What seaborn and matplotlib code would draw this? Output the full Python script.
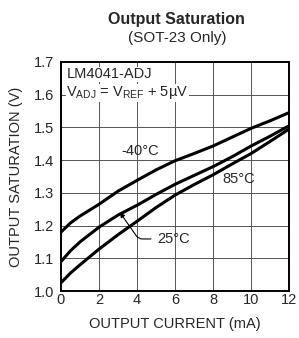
import numpy as np
import pandas as pd
import matplotlib
matplotlib.use("Agg")
import matplotlib.pyplot as plt
import seaborn as sns

# ------- DATA ----------------------------------------
current_ma = [0, 0.5, 1, 2, 3, 4, 5, 6, 7, 8, 9, 10, 11, 12]
sat_m40 = [1.18, 1.208, 1.229, 1.265, 1.305, 1.338, 1.37, 1.398, 1.42, 1.443, 1.47, 1.497, 1.52, 1.545]
sat_25 = [1.09, 1.123, 1.15, 1.195, 1.232, 1.262, 1.295, 1.326, 1.353, 1.38, 1.41, 1.443, 1.473, 1.505]
sat_85 = [1.025, 1.055, 1.08, 1.128, 1.172, 1.213, 1.255, 1.293, 1.325, 1.355, 1.388, 1.42, 1.457, 1.495]
temps = ["-40°C", "25°C", "85°C"]

x_ticks = [0, 2, 4, 6, 8, 10, 12]
y_ticks = [1.0, 1.1, 1.2, 1.3, 1.4, 1.5, 1.6, 1.7]

df = pd.DataFrame({
    "current": current_ma * 3,
    "vsat": sat_m40 + sat_25 + sat_85,
    "temp": [t for t in temps for _ in current_ma],
})

sns.set_style("white")
plt.rcParams["font.family"] = ["Liberation Sans", "DejaVu Sans"]

fig = plt.figure(figsize=(2.99, 3.38), dpi=100)
ax = fig.add_axes([0.204, 0.139, 0.763, 0.678])

sns.lineplot(data=df, x="current", y="vsat", units="temp", estimator=None,
             color="black", lw=2.2, ax=ax, legend=False)

ax.set_xlim(0, 12)
ax.set_ylim(1.0, 1.7)
ax.set_xticks(x_ticks)
ax.set_yticks(y_ticks)
ax.set_xticklabels([str(v) for v in x_ticks], fontsize=10.5)
ax.set_yticklabels([f"{v:.1f}" for v in y_ticks], fontsize=10.5)
ax.tick_params(axis="y", length=0, pad=5)
ax.tick_params(axis="x", length=0, pad=1.5)
ax.grid(True, color="#555555", lw=0.7)
for s in ax.spines.values():
    s.set_color("black")
    s.set_linewidth(1.4)

ax.set_xlabel("OUTPUT CURRENT (mA)", fontsize=10.5, labelpad=7)
ax.set_ylabel("OUTPUT SATURATION (V)", fontsize=10.5, labelpad=8)

fig.text(0.589, 0.941, "Output Saturation", ha="center", va="center", fontsize=11.5, fontweight="bold")
fig.text(0.592, 0.889, "(SOT-23 Only)", ha="center", va="center", fontsize=11)

box = dict(facecolor="white", edgecolor="none", pad=0.5)
ax.text(0.28, 1.662, "LM4041-ADJ", fontsize=10.5, va="center", bbox=box)
ax.text(0.28, 1.605, r"V$_{\mathregular{ADJ}}$ = V$_{\mathregular{REF}}$ + 5µV",
        fontsize=10.5, va="center", bbox=box)

ax.text(4.18, 1.427, temps[0], fontsize=10.5, ha="center", va="center")
ax.text(9.37, 1.341, temps[2], fontsize=10.5, ha="center", va="center")
ax.annotate(temps[1], xy=(3.1, 1.24), xytext=(5.05, 1.159), fontsize=10.5, va="center",
            arrowprops=dict(arrowstyle="-|>", color="black", lw=0.8, mutation_scale=7,
                            connectionstyle="angle,angleA=0,angleB=-55,rad=4",
                            shrinkA=2, shrinkB=0))

fig.savefig("out.png", dpi=100)
